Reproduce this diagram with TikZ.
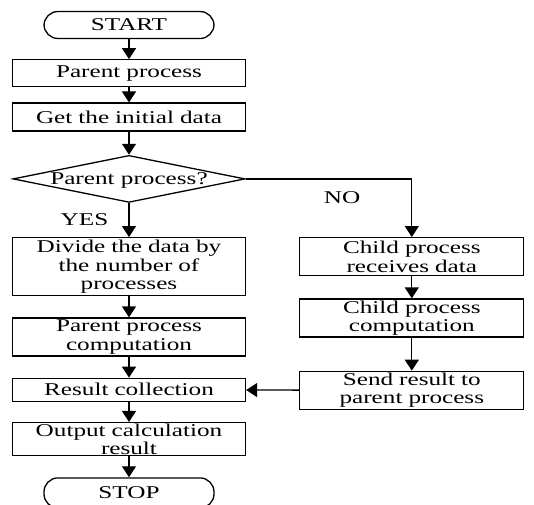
\documentclass[tikz,border=0pt]{standalone}
\usepackage{fontspec}
\setmainfont{Liberation Serif}[FakeStretch=1.4]
\usepackage{tikz}
\usetikzlibrary{positioning, shapes.geometric, arrows.meta}

\tikzset{
	base/.style={draw, line width=1.3pt, align=center, inner xsep=2pt, inner ysep=0pt, font=\fontsize{18}{18.5}\selectfont},
	term/.style={base, rounded corners=14pt, minimum width=170pt, minimum height=27pt},
	lbox/.style={base, text width=225pt, minimum width=233pt},
	rbox/.style={base, text width=216pt, minimum width=224pt, minimum height=38pt},
	cond/.style={base, diamond, aspect=4.8, inner sep=0pt, text height=12pt, text depth=0pt, minimum width=232pt, minimum height=47pt},
	lab/.style={inner sep=0pt, font=\fontsize{18}{18.5}\selectfont},
	arr/.style={line width=1.3pt, -{Triangle[width=14pt,length=11pt]}}
}

\begin{document}
\begin{tikzpicture}
	\useasboundingbox (0,0) rectangle (534pt,-504pt);
	
	\node[term] (start) at (129pt,-25pt) {START};
	\node[lbox, minimum height=27pt, below=20pt of start] (par) {Parent process};
	\node[lbox, minimum height=28pt, below=15pt of par] (get) {Get the initial data};
	\node[cond, below=23pt of get] (dec) {Parent process?};
	\node[lbox, minimum height=58pt, below=34pt of dec] (div) {Divide the data by\\the number of\\processes};
	\node[lbox, minimum height=38pt, below=21pt of div] (comp) {Parent process\\computation};
	\node[lbox, minimum height=23pt, below=21pt of comp] (coll) {Result collection};
	\node[lbox, minimum height=33pt, below=20pt of coll] (out) {Output calculation\\result};
	\node[term, minimum height=30pt, below=21pt of out] (stop) {STOP};
	
	\node[rbox, right=53pt of div.north east, anchor=north west] (ch1) {Child process\\receives data};
	\node[rbox, below=22pt of ch1] (ch2) {Child process\\computation};
	\node[rbox, below=33pt of ch2] (send) {Send result to\\parent process};
	
	\draw[arr] (start) -- (par);
	\draw[arr] (par) -- (get);
	\draw[arr] (get) -- (dec);
	\draw[arr] (dec) -- node[lab, left=20pt] {YES} (div);
	\draw[arr] (div) -- (comp);
	\draw[arr] (comp) -- (coll);
	\draw[arr] (coll) -- (out);
	\draw[arr] (out) -- (stop);
	\draw[arr] (dec.east) -| node[lab, pos=0.29, below=12pt] {NO} (ch1.north);
	\draw[arr] (ch1) -- (ch2);
	\draw[arr] (ch2) -- (send);
	\draw[arr] (send) -- (coll);
\end{tikzpicture}
\end{document}
